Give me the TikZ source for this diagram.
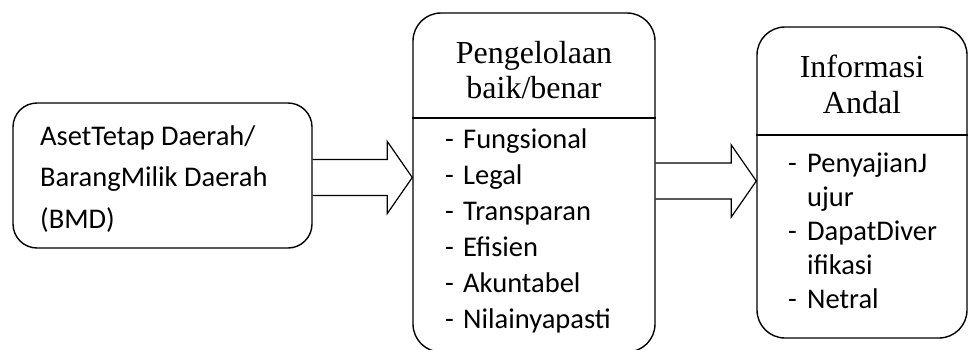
\documentclass[tikz,border=0pt]{standalone}
\usepackage{fontspec}
\setmainfont{Carlito}
\newfontfamily\judulfont{Liberation Serif}
\usetikzlibrary{calc}

\newcommand{\panahblok}[3]{%
  \draw[garis] let \p1=(#1.east), \p2=(#2.west) in
    (\x1,#3+18) -- (\x2-25,#3+18) -- (\x2-25,#3+36) -- (\x2,#3)
    -- (\x2-25,#3-36) -- (\x2-25,#3-18) -- (\x1,#3-18);}

\begin{document}
\begin{tikzpicture}[x=1pt, y=1pt,
  kotak/.style={draw, line width=1.4pt, rounded corners=28pt, inner sep=0pt},
  garis/.style={line width=1.2pt, line join=miter},
  isi/.style={anchor=base west, inner sep=0pt, font=\fontsize{28.5}{34}\selectfont},
  judul/.style={anchor=base, inner sep=0pt, font=\judulfont\fontsize{32}{36}\selectfont}]
  \useasboundingbox (0,0) rectangle (968,349);
  \node[kotak, rounded corners=24pt, minimum width=299pt, minimum height=145pt] (aset) at (162.5,173.5) {};
  \node[kotak, minimum width=242pt, minimum height=339pt] (kelola) at (534,166.5) {};
  \node[kotak, minimum width=210pt, minimum height=311pt] (info) at (862,166.5) {};
  \coordinate (batasA) at (0,231);
  \coordinate (batasB) at (0,214);
  \draw[garis] (kelola.west |- batasA) -- (kelola.east |- batasA);
  \draw[garis] (info.west |- batasB) -- (info.east |- batasB);
  % teks kotak kiri
  \foreach \baris [count=\i from 0] in {AsetTetap Daerah/, BarangMilik Daerah, (BMD)}
    \node[isi] (aset-\i) at (40,204-41.5*\i) {\baris};
  % pengelolaan
  \node[judul] (kelola-j1) at (534,286) {Pengelolaan};
  \node[judul] (kelola-j2) at (534,251) {baik/benar};
  \foreach \butir [count=\i from 0] in {Fungsional, Legal, Transparan, Efisien, Akuntabel, Nilainyapasti}
    \node[isi] (kelola-\i) at (445,201-36*\i) {\makebox[18pt][l]{-}\butir};
  % informasi
  \node[judul] (info-j1) at (862,272) {Informasi};
  \node[judul] (info-j2) at (862,236) {Andal};
  \foreach \tanda/\butir [count=\i from 0] in {-/PenyajianJ, /ujur, -/DapatDiver, /ifikasi, -/Netral}
    \node[isi] (info-\i) at (788,177-34*\i) {\makebox[19pt][l]{\tanda}\butir};
  % panah
  \panahblok{aset}{kelola}{171.5}
  \panahblok{kelola}{info}{168}
\end{tikzpicture}
\end{document}
